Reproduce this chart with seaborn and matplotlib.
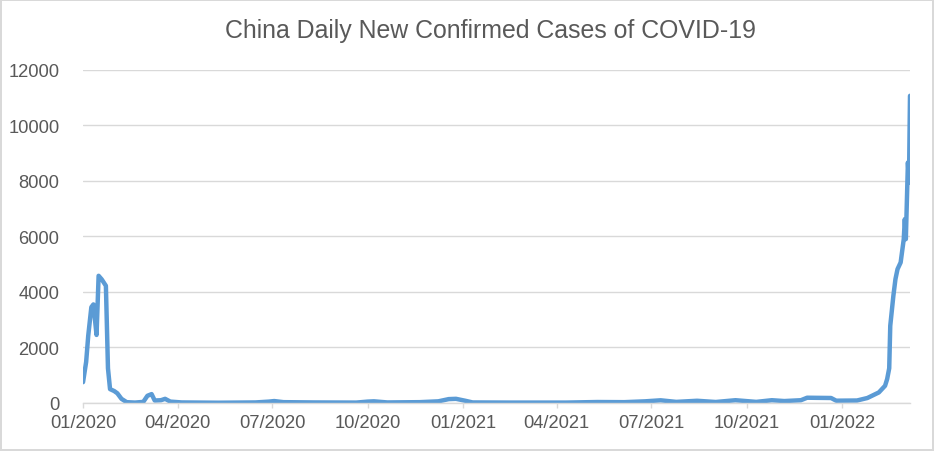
import seaborn as sns
import pandas as pd
import matplotlib.pyplot as plt
import matplotlib.dates as mdates

# values
dates = [
    "2020-01-01", "2020-01-04", "2020-01-06", "2020-01-09", "2020-01-11",
    "2020-01-14", "2020-01-16", "2020-01-19", "2020-01-23", "2020-01-25",
    "2020-01-27", "2020-01-31", "2020-02-03", "2020-02-07", "2020-02-12",
    "2020-02-20", "2020-02-28", "2020-03-03", "2020-03-07", "2020-03-10",
    "2020-03-16", "2020-03-20", "2020-03-25", "2020-04-05", "2020-05-10",
    "2020-06-15", "2020-06-28", "2020-07-03", "2020-07-12", "2020-08-10",
    "2020-09-20", "2020-10-01", "2020-10-07", "2020-10-20", "2020-11-20",
    "2020-12-08", "2020-12-18", "2020-12-25", "2021-01-03", "2021-01-10",
    "2021-02-15", "2021-04-10", "2021-05-10", "2021-06-05", "2021-06-25",
    "2021-07-10", "2021-07-25", "2021-08-14", "2021-09-01", "2021-09-20",
    "2021-10-10", "2021-10-25", "2021-11-06", "2021-11-22", "2021-11-28",
    "2021-12-21", "2021-12-26", "2022-01-15", "2022-01-25", "2022-02-05",
    "2022-02-11", "2022-02-13", "2022-02-15", "2022-02-16", "2022-02-19",
    "2022-02-21", "2022-02-23", "2022-02-26", "2022-03-01", "2022-03-02",
    "2022-03-03", "2022-03-05", "2022-03-06", "2022-03-07",
]
new_cases = [
    750, 1480, 2420, 3450, 3550,
    2450, 4580, 4450, 4220, 1250,
    500, 430, 350, 150, 30,
    15, 40, 260, 320, 90,
    100, 150, 50, 20, 10,
    20, 50, 70, 30, 20,
    15, 50, 60, 20, 30,
    60, 140, 150, 80, 20,
    15, 15, 35, 30, 60,
    97, 40, 80, 36, 100,
    40, 100, 70, 100, 190,
    180, 83, 90, 180, 380,
    620, 860, 1250, 2780, 3860,
    4460, 4820, 5060, 5900, 6620,
    5900, 8660, 7940, 11060,
]
title = "China Daily New Confirmed Cases of COVID-19"

df = pd.DataFrame({"date": pd.to_datetime(dates), "cases": new_cases})

sns.set_theme(style="whitegrid")
plt.rcParams['font.family'] = ['Liberation Sans', 'DejaVu Sans']
txt = '#595959'
grid = '#d9d9d9'

fig = plt.figure(figsize=(9.34, 4.52), dpi=100)
ax = fig.add_axes([0.0889, 0.1062, 0.8854, 0.7374])

sns.lineplot(data=df, x="date", y="cases", ax=ax, color='#5b9bd5',
             linewidth=3.2, solid_joinstyle='round', solid_capstyle='round')

ax.set_ylim(0, 12000)
ax.set_yticks(range(0, 12001, 2000))
ax.set_xlim(df["date"].iloc[0], df["date"].iloc[-1])
ax.xaxis.set_major_locator(mdates.MonthLocator(bymonth=[1, 4, 7, 10]))
ax.xaxis.set_major_formatter(mdates.DateFormatter('%m/%Y'))

ax.grid(axis='y', color=grid, linewidth=1)
ax.grid(axis='x', visible=False)
for s in ['top', 'right', 'left']:
    ax.spines[s].set_visible(False)
ax.spines['bottom'].set_color(grid)
ax.spines['bottom'].set_linewidth(1)

ax.tick_params(axis='x', bottom=True, length=3.6, width=1, color=grid,
               colors=txt, labelsize=13.2, pad=4)
ax.tick_params(axis='y', left=False, colors=txt, labelsize=13.2, pad=11)
ax.set_xlabel("")
ax.set_ylabel("")

fig.text(490 / 934, 1 - 31 / 452, title, ha='center', va='center',
         fontsize=17.9, color=txt)

fig.patch.set_linewidth(1.5)
fig.savefig("out.png", dpi=100, edgecolor=grid, facecolor='white')
